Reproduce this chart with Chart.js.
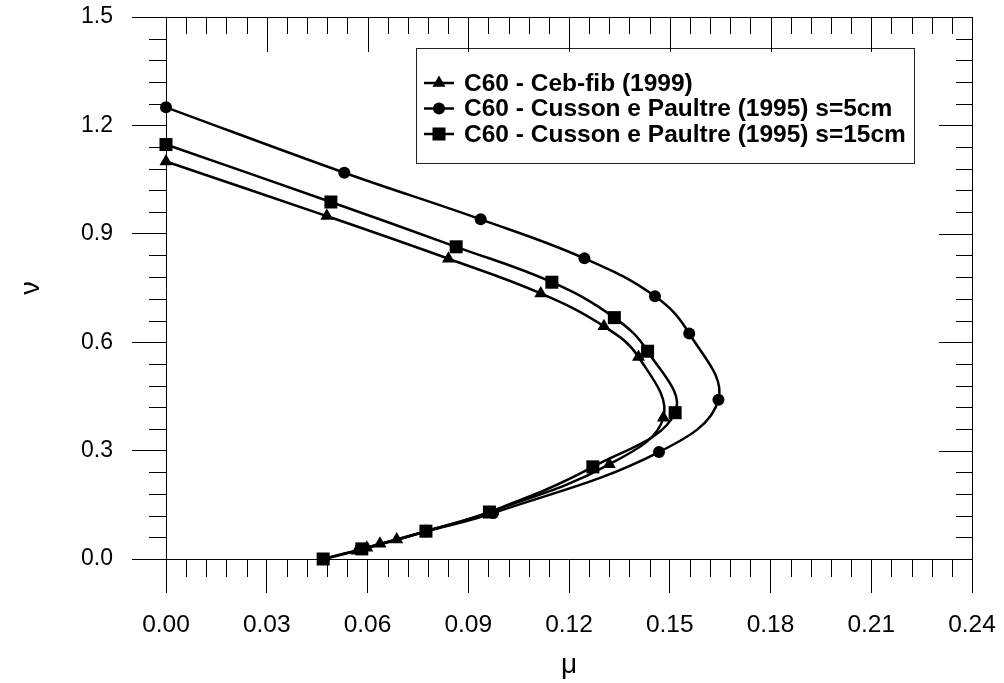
<!DOCTYPE html>
<html>
<head>
<meta charset="utf-8">
<script src="https://cdn.jsdelivr.net/npm/chart.js@4.4.1/dist/chart.umd.min.js"></script>
<style>
    html, body { margin: 0; padding: 0; background: #fff; }
    #wrap { width: 1004px; height: 683px; }
</style>
</head>
<body>
<div id="wrap"><canvas id="InteractionChart" width="1004" height="683"></canvas></div>
<script>
// C60 - Ceb-fib (1999)
const cebMu = [0.0000, 0.0479, 0.0841, 0.1116, 0.1304, 0.1407, 0.1481, 0.1320, 0.0962, 0.0774, 0.0687, 0.0637, 0.0598, 0.0569];
const cebNu = [1.100, 0.949, 0.831, 0.735, 0.644, 0.559, 0.391, 0.262, 0.129, 0.077, 0.054, 0.042, 0.031, 0.023];
// C60 - Cusson e Paultre (1995) s=5cm
const cusson5Mu = [0.0000, 0.0531, 0.0937, 0.1246, 0.1456, 0.1558, 0.1645, 0.1468, 0.0974, 0.0775, 0.0585, 0.0470];
const cusson5Nu = [1.250, 1.069, 0.940, 0.832, 0.727, 0.624, 0.441, 0.296, 0.127, 0.076, 0.027, 0.000];
// C60 - Cusson e Paultre (1995) s=15cm
const cusson15Mu = [0.0000, 0.0491, 0.0864, 0.1149, 0.1335, 0.1434, 0.1516, 0.1271, 0.0963, 0.0774, 0.0583, 0.0468];
const cusson15Nu = [1.147, 0.988, 0.864, 0.766, 0.668, 0.575, 0.405, 0.255, 0.130, 0.077, 0.028, 0.000];

const seriesLabels = ['C60 - Ceb-fib (1999)', 'C60 - Cusson e Paultre (1995) s=5cm', 'C60 - Cusson e Paultre (1995) s=15cm'];
const xTicks = [0.00, 0.03, 0.06, 0.09, 0.12, 0.15, 0.18, 0.21, 0.24];
const yTicks = [0.0, 0.3, 0.6, 0.9, 1.2, 1.5];
const xTitle = 'μ';
const yTitle = 'ν';

function toPoints(mu, nu) {
    return mu.map(function (m, i) { return {x: m, y: nu[i]}; });
}

Chart.defaults.font.family = "'Liberation Sans', Arial, sans-serif";
Chart.defaults.color = '#000';

function drawMarker(ctx, style, r, x, y) {
    ctx.beginPath();
    if (style === 'triangle') {
        ctx.moveTo(x, y - r);
        ctx.lineTo(x + r * 0.866, y + r / 2);
        ctx.lineTo(x - r * 0.866, y + r / 2);
        ctx.closePath();
    } else if (style === 'circle') {
        ctx.arc(x, y, r, 0, Math.PI * 2);
    } else {
        const h = r * Math.SQRT1_2;
        ctx.rect(x - h, y - h, 2 * h, 2 * h);
    }
    ctx.fill();
}

// legend box inside the plot, top right
const legendBox = {
    id: 'legendBox',
    afterDatasetsDraw(chart) {
        const ctx = chart.ctx;
        ctx.save();
        ctx.fillStyle = '#fff';
        ctx.fillRect(416.5, 48.5, 498, 115);
        ctx.strokeStyle = '#222';
        ctx.lineWidth = 1;
        ctx.strokeRect(416.5, 48.5, 498, 115);
        chart.data.datasets.forEach(function (ds, i) {
            const cy = 83 + i * 25.5;
            ctx.strokeStyle = '#000';
            ctx.lineWidth = 2.5;
            ctx.beginPath();
            ctx.moveTo(424, cy);
            ctx.lineTo(454, cy);
            ctx.stroke();
            ctx.fillStyle = '#000';
            drawMarker(ctx, ds.pointStyle, ds.pointRadius, 439, cy);
            ctx.font = "bold 24.5px 'Liberation Sans', Arial, sans-serif";
            ctx.textBaseline = 'middle';
            ctx.textAlign = 'left';
            ctx.fillText(ds.label, 464, cy + 1);
        });
        ctx.restore();
    }
};

// top/right frame and the minor ticks on every side
const frameTicks = {
    id: 'frameTicks',
    afterDraw(chart) {
        const ctx = chart.ctx;
        const a = chart.chartArea;
        const xs = chart.scales.x;
        const ys = chart.scales.y;
        ctx.save();
        ctx.strokeStyle = '#000';
        ctx.lineWidth = 1;
        ctx.beginPath();
        ctx.moveTo(a.left, a.top + 0.5);
        ctx.lineTo(a.right + 0.5, a.top + 0.5);
        ctx.lineTo(a.right + 0.5, a.bottom);
        for (let i = 0; i <= 40; i++) {
            const px = Math.round(xs.getPixelForValue(i * 0.006)) + 0.5;
            const major = i % 5 === 0;
            ctx.moveTo(px, a.top);
            ctx.lineTo(px, a.top + (major ? 35 : 17));
            if (!major) {
                ctx.moveTo(px, a.bottom);
                ctx.lineTo(px, a.bottom + 18);
            }
        }
        for (let j = 0; j <= 25; j++) {
            const py = Math.round(ys.getPixelForValue(j * 0.06)) + 0.5;
            const major = j % 5 === 0;
            ctx.moveTo(a.right, py);
            ctx.lineTo(a.right - (major ? 33 : 16), py);
            if (!major) {
                ctx.moveTo(a.left, py);
                ctx.lineTo(a.left - 17, py);
            }
        }
        ctx.stroke();
        ctx.restore();
    }
};

function dataset(label, mu, nu, style, radius) {
    return {
        label: label,
        data: toPoints(mu, nu),
        showLine: true,
        tension: 0.4,
        borderColor: '#000',
        borderWidth: 2.5,
        backgroundColor: '#000',
        pointStyle: style,
        pointRadius: radius,
        pointBorderWidth: 0,
        pointBackgroundColor: '#000',
        clip: false
    };
}

const chart = new Chart(
    document.getElementById('InteractionChart'),
    {
        type: 'scatter',
        data: {
            datasets: [
                dataset(seriesLabels[0], cebMu, cebNu, 'triangle', 7.5),
                dataset(seriesLabels[1], cusson5Mu, cusson5Nu, 'circle', 6),
                dataset(seriesLabels[2], cusson15Mu, cusson15Nu, 'rect', 9.2)
            ]
        },
        options: {
            responsive: false,
            animation: false,
            devicePixelRatio: 1,
            layout: {padding: {top: 17, right: 32, bottom: 0, left: 0}},
            plugins: {
                legend: {display: false},
                tooltip: {enabled: false}
            },
            scales: {
                x: {
                    type: 'linear',
                    min: xTicks[0],
                    max: xTicks[xTicks.length - 1],
                    afterFit: function (scale) {
                        scale.height = 124;
                        scale.paddingLeft = 0;
                        scale.paddingRight = 0;
                    },
                    afterBuildTicks: function (scale) {
                        scale.ticks = xTicks.map(function (v) { return {value: v}; });
                    },
                    ticks: {
                        padding: 18,
                        font: {size: 24.5},
                        color: '#000',
                        callback: function (v) { return Number(v).toFixed(2); }
                    },
                    grid: {drawOnChartArea: false, drawTicks: true, tickLength: 34, tickColor: '#000', tickWidth: 1},
                    border: {display: true, color: '#000', width: 1},
                    title: {display: true, text: xTitle, font: {size: 28}, color: '#000', padding: {top: 0, bottom: 1}}
                },
                y: {
                    type: 'linear',
                    min: yTicks[0],
                    max: yTicks[yTicks.length - 1],
                    afterFit: function (scale) {
                        scale.width = 166;
                        scale.paddingTop = 0;
                        scale.paddingBottom = 0;
                    },
                    afterBuildTicks: function (scale) {
                        scale.ticks = yTicks.map(function (v) { return {value: v}; });
                    },
                    ticks: {
                        padding: 19,
                        font: {size: 23},
                        color: '#000',
                        callback: function (v) { return Number(v).toFixed(1); }
                    },
                    grid: {drawOnChartArea: false, drawTicks: true, tickLength: 34, tickColor: '#000', tickWidth: 1},
                    border: {display: true, color: '#000', width: 1},
                    title: {display: true, text: yTitle, font: {size: 27}, color: '#000', padding: {top: 15, bottom: 0}}
                }
            }
        },
        plugins: [legendBox, frameTicks]
    }
)
</script>
</body>
</html>
